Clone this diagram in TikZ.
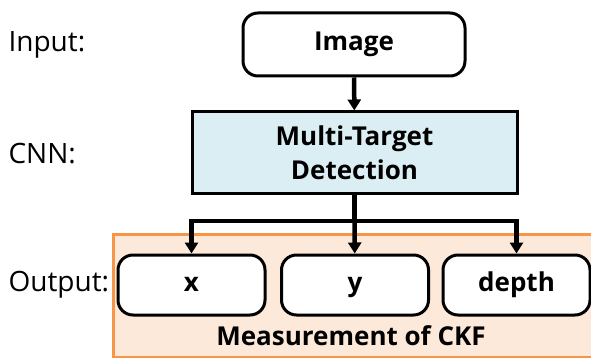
\documentclass[tikz,border=0pt]{standalone}
\usepackage{fontspec}
\setmainfont{Open Sans}
\usetikzlibrary{arrows.meta}
\definecolor{detblue}{HTML}{DBEEF4}
\definecolor{ckforange}{HTML}{F79646}
\definecolor{ckfpeach}{HTML}{FDE9D9}
\begin{document}
\begin{tikzpicture}[x=1pt,y=-1pt,
    labelfont/.style={font=\fontsize{28}{34}\selectfont},
    boxfont/.style={font=\bfseries\fontsize{26}{33.5}\selectfont},
    roundbox/.style={draw, line width=3pt, rounded corners=15pt, fill=white, boxfont,
      minimum width=147pt, minimum height=60pt, text height=19pt, text depth=6pt},
    arr/.style={line width=4.5pt, -{Triangle[width=13pt,length=11pt]}}]
    \clip (0,0) rectangle (591,358);
    \fill[white] (0,0) rectangle (591,358);
    %% Measurement region
    \draw[draw=ckforange, fill=ckfpeach, line width=3pt] (113,234) rectangle (620,357);
    \node[boxfont, text height=19pt, text depth=6pt] (meas) at (351,339) {Measurement of CKF};
    %% Left labels
    \node[labelfont, anchor=west] (inlbl) at (5,45) {Input:};
    \node[labelfont, anchor=west] (cnnlbl) at (5,154) {CNN:};
    \node[labelfont, anchor=west] (outlbl) at (5,285) {Output:};
    %% Boxes
    \node[roundbox, minimum width=222pt, minimum height=63pt] (img) at (354,44.5) {Image};
    \node[draw, line width=3pt, fill=detblue, boxfont, align=center,
      minimum width=325pt, minimum height=81pt] (det) at (354.5,152.5) {Multi-Target\\Detection};
    \node[roundbox] (xout) at (191.5,285) {x};
    \node[roundbox] (yout) at (355,285) {y};
    \node[roundbox] (dout) at (516.5,285) {depth};
    %% Arrows
    \coordinate (split) at (354.5,221);
    \draw[arr] (img) -- (det);
    \draw[line width=4.5pt] (det) -- (split);
    \draw[arr] (split) -| (xout);
    \draw[arr] (split) -- (yout);
    \draw[arr] (split) -| (dout);
\end{tikzpicture}
\end{document}
